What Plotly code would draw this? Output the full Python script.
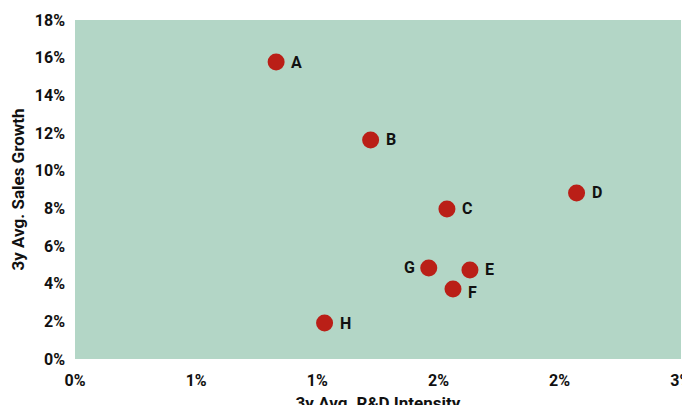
import plotly.graph_objects as go

labels = ["A", "B", "C", "D", "E", "F", "G", "H"]
rd_intensity = [0.0083, 0.0122, 0.01535, 0.0207, 0.0163, 0.0156, 0.0146, 0.0103]
sales_growth = [0.1577, 0.1163, 0.0797, 0.0882, 0.0473, 0.0372, 0.0483, 0.0191]

x_tickvals = [0, 0.005, 0.01, 0.015, 0.02, 0.025]
x_ticktext = ["0%", "1%", "1%", "2%", "2%", "3%"]
y_tickvals = [0, 0.02, 0.04, 0.06, 0.08, 0.10, 0.12, 0.14, 0.16, 0.18]
y_ticktext = ["0%", "2%", "4%", "6%", "8%", "10%", "12%", "14%", "16%", "18%"]

FONT = "Roboto"
FS = 16
fig = go.Figure()
fig.add_trace(go.Scatter(
    x=rd_intensity, y=sales_growth, mode="markers",
    marker=dict(size=17, color="#BA1F17", line=dict(width=0)),
    hoverinfo="skip", showlegend=False,
))

left_side = {"G"}
for lab, xv, yv in zip(labels, rd_intensity, sales_growth):
    if lab in left_side:
        fig.add_annotation(x=xv, y=yv, text="<b>%s</b>" % lab, showarrow=False,
                           xanchor="right", xshift=-12, yshift=1,
                           font=dict(family=FONT, size=FS, color="#111"))
    else:
        ys = -4 if lab == "F" else 0
        fig.add_annotation(x=xv, y=yv, text="<b>%s</b>" % lab, showarrow=False,
                           xanchor="left", xshift=13, yshift=ys,
                           font=dict(family=FONT, size=FS, color="#111"))

fig.update_layout(
    width=690, height=405,
    margin=dict(l=67, r=17, t=12, b=54, autoexpand=False),
    paper_bgcolor="white", plot_bgcolor="#B3D6C6",
    font=dict(family=FONT, size=FS, color="#111"),
)
fig.update_xaxes(
    range=[0, 0.02501], tickvals=x_tickvals, ticktext=["<b>%s</b>" % t for t in x_ticktext],
    showgrid=False, zeroline=False, showline=False, ticks="", automargin=False,
    ticklabelstandoff=10, ticklabeloverflow="allow",
    title=dict(text="<b>3y Avg. R&D Intensity</b>", standoff=9, font=dict(size=17)),
)
fig.update_yaxes(
    range=[0, 0.18], tickvals=y_tickvals, ticktext=["<b>%s</b>" % t for t in y_ticktext],
    showgrid=False, zeroline=False, showline=False, ticks="", automargin=False,
    ticklabelstandoff=9, ticklabeloverflow="allow",
    title=dict(text="<b>3y Avg. Sales Growth</b>", standoff=6, font=dict(size=17)),
)

fig.write_html("out.html")
